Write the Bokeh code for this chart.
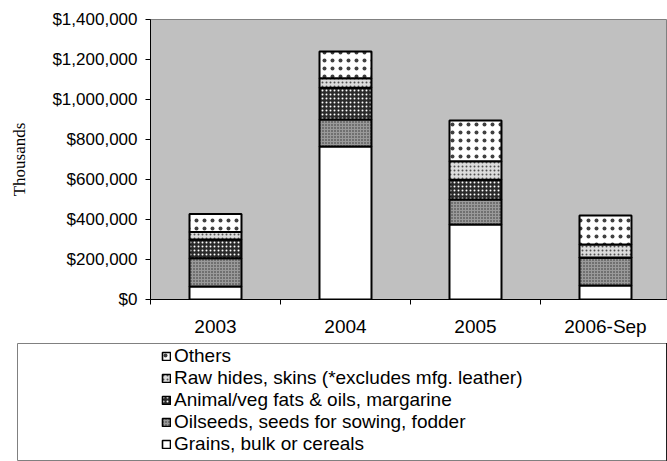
from bokeh.plotting import figure
from bokeh.models import (Range1d, FixedTicker, NumeralTickFormatter, Legend, LegendItem,
                          ColumnDataSource)
from bokeh.layouts import column
from bokeh.embed import file_html
from bokeh.resources import INLINE

categories = ["2003", "2004", "2005", "2006-Sep"]
grains = [65000, 765000, 375000, 70000]
oilseeds = [141500, 135000, 125000, 138500]
fats = [94000, 158500, 98500, 2000]
hides = [36500, 48000, 93000, 64500]
others = [90000, 133500, 203500, 145000]

series_names = ["Grains, bulk or cereals", "Oilseeds, seeds for sowing, fodder",
                "Animal/veg fats & oils, margarine",
                "Raw hides, skins (*excludes mfg. leather)", "Others"]
keys = ["grains", "oilseeds", "fats", "hides", "others"]
y_ticks = [0, 200000, 400000, 600000, 800000, 1000000, 1200000, 1400000]

xpos = [i + 0.5 for i in range(len(categories))]
source = ColumnDataSource(dict(x=xpos, grains=grains, oilseeds=oilseeds, fats=fats,
                               hides=hides, others=others))

style = dict(
    fill_color=["white", "#9a9a9a", "#2a2a2a", "#dcdcdc", "white"],
    hatch_pattern=[" ", "dot", "dot", "dot", "dot"],
    hatch_color=["black", "#303030", "white", "#505050", "#404040"],
    hatch_scale=[12, 3, 4, 4, 8],
    hatch_weight=[1, 1, 1.5, 1.5, 2],
    line_color="black",
)

p = figure(width=667, height=343, output_backend="svg", toolbar_location=None,
           x_range=Range1d(0, 3.977), y_range=Range1d(0, 1400000),
           min_border_left=150, min_border_right=0, min_border_top=19, min_border_bottom=44,
           frame_align=False)
p.background_fill_color = "#C0C0C0"
p.border_fill_color = "white"
p.outline_line_color = "#808080"
p.outline_line_width = 1
p.grid.visible = False

renderers = p.vbar_stack(keys, x="x", width=0.4, source=source, line_width=2, **style)

xa = p.xaxis[0]
xa.ticker = FixedTicker(ticks=xpos, minor_ticks=[0, 1, 2, 3, 4])
xa.major_label_overrides = {x: c for x, c in zip(xpos, categories)}
xa.major_tick_out = 0
xa.major_tick_in = 0
xa.minor_tick_out = 5
xa.minor_tick_in = 0
xa.minor_tick_line_color = "black"
xa.axis_line_color = "black"
xa.major_label_standoff = 11
xa.major_label_text_font = "Liberation Sans"
xa.major_label_text_font_size = "19px"
xa.major_label_text_color = "black"

ya = p.yaxis[0]
ya.ticker = FixedTicker(ticks=y_ticks)
ya.formatter = NumeralTickFormatter(format="$0,0")
ya.major_tick_out = 5
ya.major_tick_in = 0
ya.minor_tick_line_color = None
ya.axis_line_color = "black"
ya.major_label_standoff = 8
ya.major_label_text_font = "Liberation Sans"
ya.major_label_text_font_size = "17px"
ya.major_label_text_color = "black"
ya.axis_label = "Thousands"
ya.axis_label_text_font = "Liberation Serif"
ya.axis_label_text_font_size = "17px"
ya.axis_label_text_font_style = "normal"
ya.axis_label_text_color = "black"
ya.axis_label_standoff = 20

# legend panel (bars of the same data, kept outside its visible x range)
lp = figure(width=667, height=118, output_backend="svg", toolbar_location=None,
            x_range=Range1d(-10, -9), y_range=Range1d(0, 1),
            x_axis_location=None, y_axis_location=None,
            min_border_left=17, min_border_right=0, min_border_top=0, min_border_bottom=0,
            frame_align=False)
lp.grid.visible = False
lp.background_fill_color = "white"
lp.outline_line_color = "#808080"
lp.outline_line_width = 1
lrs = lp.vbar_stack(keys, x="x", width=0.4, source=source, line_width=1.6, **style)

items = [LegendItem(label=n, renderers=[r]) for n, r in zip(series_names, lrs)][::-1]
legend = Legend(items=items, location=(144, 6), padding=0, margin=0,
                glyph_width=10, glyph_height=10, label_height=21, spacing=0,
                label_standoff=3, border_line_alpha=0, background_fill_alpha=0,
                label_text_font="Liberation Sans", label_text_font_size="19px",
                label_text_color="black", label_text_baseline="middle")
lp.add_layout(legend, "center")

open("out.html", "w").write(file_html(column(p, lp, spacing=0), INLINE))
